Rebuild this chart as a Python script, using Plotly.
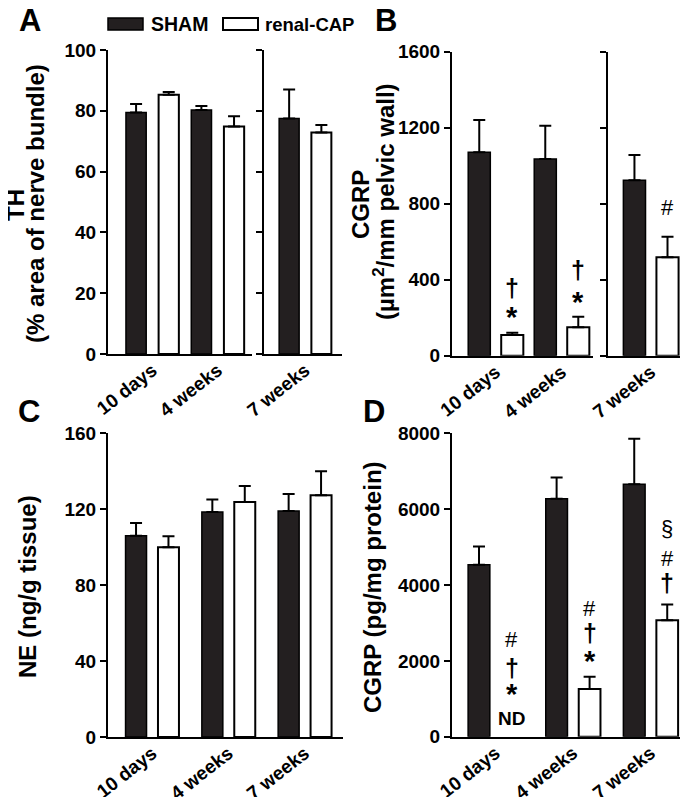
import plotly.graph_objects as go

W, H = 688, 797
OFF = 8  # page body margin of the html page, compensated in paper coordinates
FONT = "Liberation Sans, Arial, Helvetica, sans-serif"
DARK = "#231f20"

# ---------------- data ----------------
categories = ["10 days", "4 weeks", "7 weeks"]
series_names = ["SHAM", "renal-CAP"]

th_sham = [79.4, 80.3, 77.5]
th_sham_err = [2.8, 1.3, 9.5]
th_cap = [85.3, 74.8, 72.9]
th_cap_err = [0.9, 3.4, 2.4]

cgrp_area_sham = [1070, 1034, 923]
cgrp_area_sham_err = [170, 176, 132]
cgrp_area_cap = [109, 149, 518]
cgrp_area_cap_err = [12, 56, 108]

ne_sham = [106, 118.6, 119.1]
ne_sham_err = [6.8, 6.5, 8.9]
ne_cap = [100, 123.8, 127.4]
ne_cap_err = [5.8, 8.5, 12.6]

cgrp_prot_sham = [4537, 6274, 6658]
cgrp_prot_sham_err = [481, 560, 1195]
cgrp_prot_cap = [None, 1255, 3071]
cgrp_prot_cap_err = [0, 324, 413]

ticks_A = [0, 20, 40, 60, 80, 100]
ticks_B = [0, 400, 800, 1200, 1600]
ticks_C = [0, 40, 80, 120, 160]
ticks_D = [0, 2000, 4000, 6000, 8000]

title_A = ["TH", "(% area of nerve bundle)"]
title_B = ["CGRP", "(µm<sup>2</sup>/mm pelvic wall)"]
title_C = "NE (ng/g tissue)"
title_D = "CGRP (pg/mg protein)"

# significance marks: (axis x, axis y, category index, text, level, bold)
marks_B = [("x3", "y3", 0, "†", 356, False), ("x3", "y3", 0, "*", 205, True),
           ("x3", "y3", 1, "†", 451, False), ("x3", "y3", 1, "*", 280, True),
           ("x4", "y4", 0, "#", 777, False)]
marks_D = [("x6", "y6", 0, "#", 2571, False), ("x6", "y6", 0, "†", 1808, False),
           ("x6", "y6", 0, "*", 1120, True), ("x6", "y6", 0, "ND", 492, True),
           ("x6", "y6", 1, "#", 3387, False), ("x6", "y6", 1, "†", 2729, False),
           ("x6", "y6", 1, "*", 1990, True),
           ("x6", "y6", 2, "§", 5492, False), ("x6", "y6", 2, "#", 4703, False),
           ("x6", "y6", 2, "†", 4045, False)]


def px_x(p):
    return (p - OFF) / W


def px_y(p):
    return 1 - (p - OFF) / H


fig = go.Figure()


def add_pair(xa, ya, cats, sham, sham_err, cap, cap_err, width, half):
    n = len(cats)
    fig.add_trace(go.Bar(
        x=cats, y=sham, name=series_names[0], width=width, offset=-half - width / 2,
        marker=dict(color=DARK, line=dict(color="black", width=1.5)),
        error_y=dict(type="data", array=sham_err, arrayminus=[0] * n, symmetric=False,
                     color="black", thickness=2, width=6),
        xaxis=xa, yaxis=ya, showlegend=False))
    fig.add_trace(go.Bar(
        x=cats, y=cap, name=series_names[1], width=width, offset=half - width / 2,
        marker=dict(color="white", line=dict(color="black", width=2)),
        error_y=dict(type="data", array=cap_err, arrayminus=[0] * n, symmetric=False,
                     color="black", thickness=2, width=6),
        xaxis=xa, yaxis=ya, showlegend=False))


# Panel A
add_pair("x", "y", categories[:2], th_sham[:2], th_sham_err[:2], th_cap[:2], th_cap_err[:2], 0.31, 0.25)
add_pair("x2", "y2", categories[2:], th_sham[2:], th_sham_err[2:], th_cap[2:], th_cap_err[2:], 0.31, 0.25)
# Panel B
add_pair("x3", "y3", categories[:2], cgrp_area_sham[:2], cgrp_area_sham_err[:2],
         cgrp_area_cap[:2], cgrp_area_cap_err[:2], 0.335, 0.25)
add_pair("x4", "y4", categories[2:], cgrp_area_sham[2:], cgrp_area_sham_err[2:],
         cgrp_area_cap[2:], cgrp_area_cap_err[2:], 0.335, 0.25)
# Panel C
add_pair("x5", "y5", categories, ne_sham, ne_sham_err, ne_cap, ne_cap_err, 0.275, 0.2125)
# Panel D
add_pair("x6", "y6", categories, cgrp_prot_sham, cgrp_prot_sham_err,
         cgrp_prot_cap, cgrp_prot_cap_err, 0.28, 0.2125)

tickfont = dict(family=FONT, size=19, color="black", weight="bold")

axes = [
    # (suffix, xdomain px, ydomain px, xrange, yrange, yticks, show labels)
    ("", (108, 252), (50, 354), [-0.68, 1.525], [0, 100], ticks_A, True),
    ("2", (264, 342), (50, 354), [-0.64, 0.57], [0, 100], ticks_A, False),
    ("3", (452, 593), (51.5, 355.7), [-0.663, 1.473], [0, 1600], ticks_B, True),
    ("4", (608, 688), (51.5, 355.7), [-0.65, 0.56], [0, 1600], ticks_B, False),
    ("5", (108, 343), (433.3, 737), [-0.58, 2.5], [0, 160], ticks_C, True),
    ("6", (452, 688), (433.3, 736.7), [-0.56, 2.48], [0, 8000], ticks_D, True),
]

for suf, xd, yd, xr, yr, yt, lab in axes:
    anchor_x = "x" + suf
    anchor_y = "y" + suf
    fig.layout["xaxis" + suf] = dict(
        domain=[px_x(xd[0]), px_x(xd[1])], range=xr, type="category",
        anchor=anchor_y, showline=True, linecolor="black", linewidth=2,
        ticks="", showgrid=False, zeroline=False, tickangle=-38, automargin=False,
        ticklabelstandoff=-4, tickfont=tickfont, fixedrange=True)
    fig.layout["yaxis" + suf] = dict(
        domain=[px_y(yd[1]), px_y(yd[0])], range=yr, anchor=anchor_x,
        showline=True, linecolor="black", linewidth=2, ticks="outside",
        ticklen=6, tickwidth=2, tickcolor="black", tickvals=yt, automargin=False,
        showticklabels=lab, showgrid=False, zeroline=False,
        tickfont=tickfont, fixedrange=True)

annotations = []
shapes = []

# panel letters
for letter, (lx, ly) in zip(["A", "B", "C", "D"], [(30, 21), (386, 20), (29, 411), (374, 411)]):
    annotations.append(dict(text=letter, x=px_x(lx), y=px_y(ly), xref="paper", yref="paper",
                            showarrow=False, xanchor="center", yanchor="middle",
                            font=dict(family=FONT, size=31, color="black", weight="bold")))

# axis titles
title_font = dict(family=FONT, size=24, color="black", weight="bold")
for txt, (tx, ty) in [(title_A[0], (16, 205)), (title_A[1], (36, 204)),
                      (title_B[0], (361, 205)), (title_B[1], (384, 202)),
                      (title_C, (27, 587)), (title_D, (372, 587))]:
    annotations.append(dict(text=txt, x=px_x(tx), y=px_y(ty), xref="paper", yref="paper",
                            showarrow=False, xanchor="center", yanchor="middle",
                            textangle=-90, font=title_font))

# legend
shapes.append(dict(type="rect", xref="paper", yref="paper", x0=px_x(108), x1=px_x(143),
                   y0=px_y(30), y1=px_y(18), fillcolor=DARK, line=dict(color="black", width=1.5)))
shapes.append(dict(type="rect", xref="paper", yref="paper", x0=px_x(223), x1=px_x(258),
                   y0=px_y(30), y1=px_y(18), fillcolor="white", line=dict(color="black", width=2)))
for txt, lx, fs in zip(series_names, [149, 263], [19.5, 18.5]):
    annotations.append(dict(text=txt, x=px_x(lx), y=px_y(24), xref="paper", yref="paper",
                            showarrow=False, xanchor="left", yanchor="middle",
                            font=dict(family=FONT, size=fs, color="black", weight="bold")))


def mark_font(txt, bold):
    if txt == "ND":
        return dict(family=FONT, size=19, color="black", weight="bold")
    if txt == "*":
        return dict(family=FONT, size=29, color="black", weight="bold")
    if txt == "†":
        return dict(family=FONT, size=25, color="black", weight="bold")
    return dict(family=FONT, size=22, color="black", weight="normal")


for xa, ya, idx, txt, yv, bold in marks_B:
    annotations.append(dict(text=txt, x=idx + 0.25, y=yv, xref=xa, yref=ya, showarrow=False,
                            xanchor="center", yanchor="middle", font=mark_font(txt, bold)))
for xa, ya, idx, txt, yv, bold in marks_D:
    annotations.append(dict(text=txt, x=idx + 0.2125, y=yv, xref=xa, yref=ya, showarrow=False,
                            xanchor="center", yanchor="middle", font=mark_font(txt, bold)))

fig.update_layout(
    width=W, height=H, margin=dict(l=0, r=0, t=0, b=0, autoexpand=False),
    paper_bgcolor="white", plot_bgcolor="white", barmode="overlay",
    showlegend=False, annotations=annotations, shapes=shapes,
    font=dict(family=FONT, color="black"),
)

fig.write_html("out.html")
